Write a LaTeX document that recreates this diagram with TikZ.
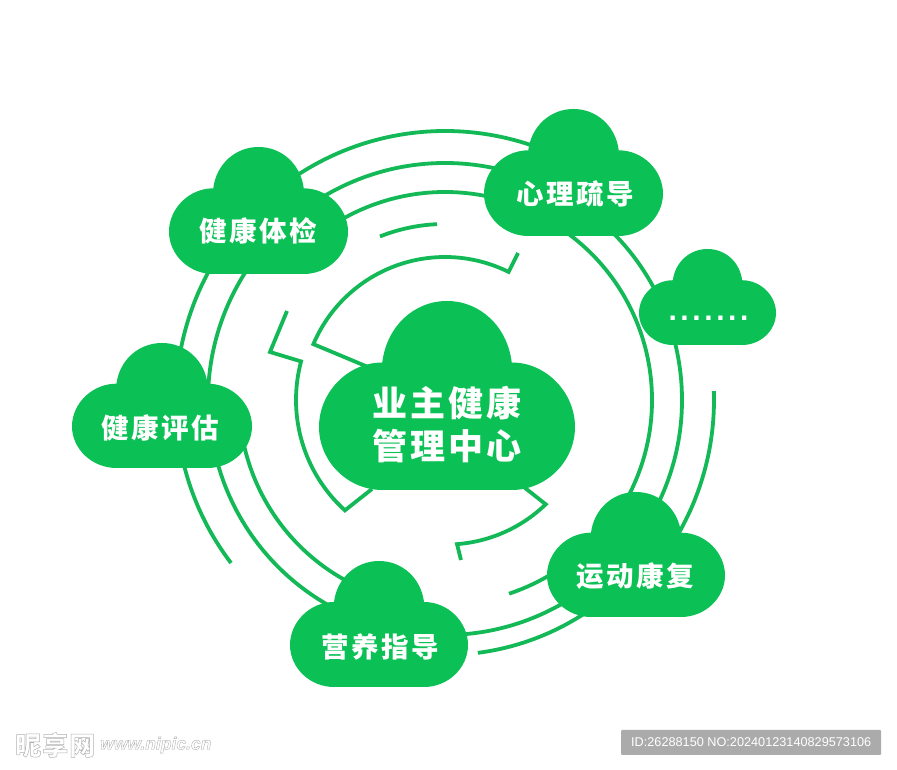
\documentclass[tikz,border=0pt]{standalone}
\usepackage{fontspec}
\setmainfont{Liberation Sans}
\newfontfamily\cjk[LetterSpace=9]{Noto Sans CJK SC}
\newfontfamily\cjkw[LetterSpace=4]{Noto Sans CJK SC}
\definecolor{cloudgreen}{HTML}{0BC155}
\definecolor{ringgreen}{HTML}{14B957}
\newcommand\cloudblob[4]{%
  \begin{scope}[shift={(#1,770-#2)},xscale=#3/178,yscale=-#4/126]
    \fill[cloudgreen] (44,126) .. controls (20,126) and (0,107) .. (0,84)
      .. controls (0,61) and (20,41) .. (44,41)
      .. controls (47,17) and (66,0) .. (89,0)
      .. controls (112,0) and (131,17) .. (134,41)
      .. controls (158,41) and (178,61) .. (178,84)
      .. controls (178,107) and (158,126) .. (134,126) -- cycle;
  \end{scope}}
\newcommand\ringarc[3]{\draw[ring] ([shift={(#2:#1pt)}]O) arc[start angle=#2,end angle=#3,radius=#1pt];}
\tikzset{
  ring/.style={draw=ringgreen,line width=3.8pt,line join=miter},
  smalllabel/.style={text=white,font=\cjk\bfseries\fontsize{27.5}{30}\selectfont,inner sep=0pt},
  biglabel/.style={text=white,font=\cjk\bfseries\fontsize{35}{43}\selectfont,inner sep=0pt,align=center},
}
\begin{document}
\begin{tikzpicture}[x=1pt,y=1pt]
\useasboundingbox (0,0) rectangle (897,770);
\fill[white] (0,0) rectangle (897,770);
\coordinate (O) at (445,370);
% outer ring r=269
\ringarc{269}{125}{68}
\ringarc{269}{1.9}{-32}
\ringarc{269}{150}{172}
\ringarc{269}{190}{217.3}
% ring r=237
\ringarc{237}{121}{77}
\ringarc{237}{47}{-26}
\ringarc{237}{145}{178}
\ringarc{236}{192}{241}
\ringarc{235}{-90}{-58}
% r=255 bottom
\ringarc{255}{-82.6}{-55}
% ring r=208
\ringarc{208}{120}{77}
\ringarc{207}{54}{-28}
\ringarc{206}{192}{242}
\ringarc{204}{-71.7}{-57}
% r=176 short
\ringarc{176}{111.7}{92.6}
% inner hooks
\draw[ring] (518,517) -- ([shift={(63.6:143pt)}]O) arc[start angle=63.6,end angle=157,radius=143pt] -- (368,403);
\draw[ring] (287,459) -- (270,418) -- ([shift={(165:149pt)}]O) arc[start angle=165,end angle=227.8,radius=149pt] -- (372,281);
\draw[ring] (520,286) -- ([shift={(-46:145pt)}]O) arc[start angle=-46,end angle=-85.6,radius=143.5pt] -- (461,210);
% clouds
\cloudblob{319}{301}{256}{189}
\cloudblob{169}{147}{179}{127}
\cloudblob{484}{109}{179}{127}
\cloudblob{639}{249}{137}{96}
\cloudblob{72}{343}{180}{125}
\cloudblob{290}{561}{178}{126}
\cloudblob{547}{492}{178}{125}
% labels
\node[biglabel] (center) at (447,345) {业主健康\\管理中心};
\node[smalllabel] (tijian) at (258.5,539) {健康体检};
\node[smalllabel] (shuli) at (575.5,576) {心理疏导};
\node[smalllabel] (pinggu) at (160.5,342) {健康评估};
\node[smalllabel] (yingyang) at (380.5,123) {营养指导};
\node[smalllabel] (yundong) at (635.5,194) {运动康复};
\node[text=white,font=\bfseries\fontsize{30}{32}\selectfont,inner sep=0pt,anchor=base] (dots) at (708.5,449.5) {.\kern3.6pt.\kern3.6pt.\kern3.6pt.\kern3.6pt.\kern3.6pt.\kern3.6pt.};
% watermark
\node[text=black!30,font=\cjkw\bfseries\fontsize{26}{28}\selectfont,inner sep=0pt,anchor=west] (wmcn) at (15,25) {\special{pdf:code 1 Tr 0.5 w}昵享网\special{pdf:code 0 Tr}};
\node[text=black!30,font=\bfseries\itshape\fontsize{17.5}{18}\selectfont,inner sep=0pt,anchor=west] (wmurl) at (100,25) {\special{pdf:code 1 Tr 0.4 w}www.nipic.cn\special{pdf:code 0 Tr}};
\node[fill=black!33,text=white,font=\fontsize{12.7}{14}\selectfont,minimum width=260pt,minimum height=25pt,inner sep=0pt,rounded corners=1pt,anchor=west] (idbox) at (621,27.5) {ID:26288150 NO:20240123140829573106};
\end{tikzpicture}
\end{document}
